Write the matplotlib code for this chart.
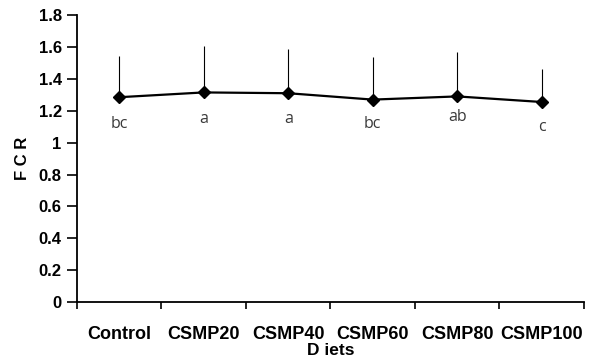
import matplotlib
matplotlib.use("Agg")
import matplotlib.pyplot as plt
import numpy as np

diets = ["Control", "CSMP20", "CSMP40", "CSMP60", "CSMP80", "CSMP100"]
fcr = [1.285, 1.315, 1.31, 1.27, 1.29, 1.255]
fcr_err = [0.26, 0.29, 0.28, 0.27, 0.28, 0.21]
letters = ["bc", "a", "a", "bc", "ab", "c"]
letter_drop = [27, 27, 26, 24, 21, 25]  # px below the point

fig = plt.figure(figsize=(5.94, 3.6), dpi=100)
ax = fig.add_axes([0.1296, 0.161, 0.8534, 0.797])

x = np.arange(len(diets))
ax.errorbar(x, fcr, yerr=[np.zeros(len(fcr)), fcr_err], fmt="none",
            ecolor="black", elinewidth=0.8, capsize=0)
ax.plot(x, fcr, color="black", lw=1.6, marker="D", markersize=6.5)

for xi, yi, lab, d in zip(x, fcr, letters, letter_drop):
    ax.annotate(lab, (xi, yi), xytext=(0, -d), textcoords="offset pixels",
                ha="center", va="center", fontsize=11.5, color="#3a3a3a",
                family="Open Sans")

ax.set_xlim(-0.5, len(diets) - 0.5)
ax.set_ylim(0, 1.8)
ax.set_yticks(np.arange(0, 1.81, 0.2))
ax.set_yticklabels(["0", "0.2", "0.4", "0.6", "0.8", "1", "1.2", "1.4", "1.6", "1.8"])
ax.set_xticks(x)
ax.set_xticklabels(diets)
ax.set_xticks(np.arange(-0.5, len(diets)), minor=True)
ax.tick_params(axis="x", which="major", length=0, pad=17)
ax.tick_params(axis="x", which="minor", length=5, width=1.2, direction="out")
ax.tick_params(axis="y", length=7, width=1.2, direction="out", pad=4)
for lab in ax.get_xticklabels():
    lab.set_fontweight("bold")
    lab.set_fontsize(13)
    lab.set_family("Liberation Sans")
for lab in ax.get_yticklabels():
    lab.set_fontweight("bold")
    lab.set_fontsize(12)
    lab.set_family("Liberation Sans")

for s in ["top", "right"]:
    ax.spines[s].set_visible(False)
for s in ["left", "bottom"]:
    ax.spines[s].set_linewidth(1.3)

ax.set_ylabel("F C R", fontsize=12, fontweight="bold", family="Liberation Sans", labelpad=6)
ax.set_xlabel("D iets", fontsize=12.5, fontweight="bold", family="Liberation Sans", labelpad=0)

fig.savefig("out.png", dpi=100)
